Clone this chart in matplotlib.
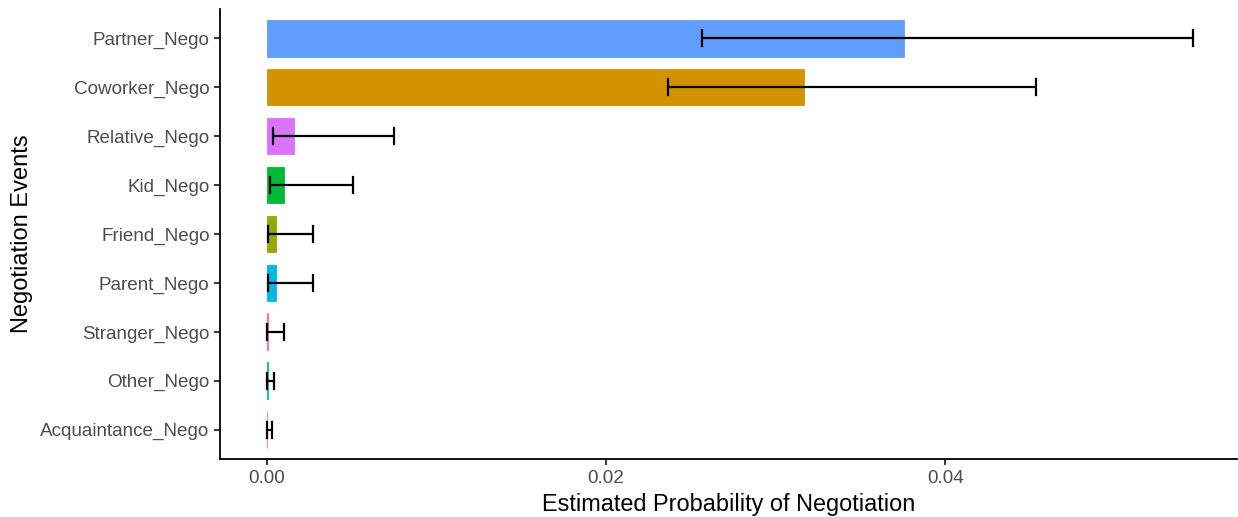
import numpy as np
import matplotlib
matplotlib.use("Agg")
import matplotlib.pyplot as plt

plt.rcParams['font.family'] = ['Liberation Sans', 'DejaVu Sans']

# events listed bottom -> top
events = ["Acquaintance_Nego", "Other_Nego", "Stranger_Nego", "Parent_Nego",
          "Friend_Nego", "Kid_Nego", "Relative_Nego", "Coworker_Nego", "Partner_Nego"]
prob = [0.00003, 0.00005, 0.00007, 0.00053, 0.00053, 0.00100, 0.00159, 0.03167, 0.03758]
lower = [0.00001, 0.00001, 0.00000, 0.00006, 0.00006, 0.00018, 0.00035, 0.02362, 0.02568]
upper = [0.00030, 0.00040, 0.00100, 0.00271, 0.00271, 0.00507, 0.00748, 0.04536, 0.05458]
colors = ["#F8766D", "#00C19F", "#FF61C3", "#00B9E3", "#93AA00",
          "#00BA38", "#DB72FB", "#D39200", "#619CFF"]

fig = plt.figure(figsize=(12.38, 5.17), dpi=100)
ax = fig.add_axes([0.1777, 0.112, 0.8215, 0.871])

y = np.arange(1, len(events) + 1)
ax.barh(y, prob, height=0.75, color=colors, edgecolor=colors, linewidth=0.6)
for yi, lo, hi in zip(y, lower, upper):
    ax.plot([lo, hi], [yi, yi], color="black", lw=1.6, solid_capstyle="butt")
    ax.plot([lo, lo], [yi - 0.16, yi + 0.16], color="black", lw=1.6)
    ax.plot([hi, hi], [yi - 0.16, yi + 0.16], color="black", lw=1.6)

ax.set_yticks(y)
ax.set_yticklabels(events)
ax.set_xticks([0.0, 0.02, 0.04])
ax.set_xticklabels(["0.00", "0.02", "0.04"])
ax.set_xlim(-0.00277, 0.0572)
ax.set_ylim(0.4, 9.6)

for s in ["top", "right"]:
    ax.spines[s].set_visible(False)
for s in ["left", "bottom"]:
    ax.spines[s].set_linewidth(1.3)
ax.tick_params(axis="both", labelsize=13.6, labelcolor="#4D4D4D", length=4, width=1.1)
ax.set_xlabel("Estimated Probability of Negotiation", fontsize=16.9, labelpad=5)
ax.set_ylabel("Negotiation Events", fontsize=17, labelpad=5)

fig.savefig("out.png", dpi=100)
